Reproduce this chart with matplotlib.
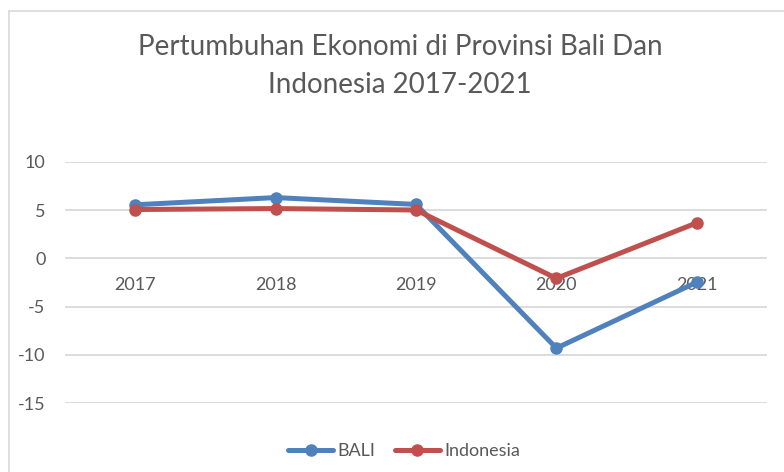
import matplotlib
matplotlib.use("Agg")
import matplotlib.pyplot as plt
from matplotlib.lines import Line2D

years = ["2017", "2018", "2019", "2020", "2021"]
bali = [5.56, 6.31, 5.60, -9.31, -2.47]
indonesia = [5.07, 5.17, 5.02, -2.07, 3.69]
y_ticks = [-15, -10, -5, 0, 5, 10]

plt.rcParams['font.family'] = ['Lato', 'DejaVu Sans']
text_color = '#595959'
blue = '#4F81BD'
red = '#C0504D'
fs = 13

W, H = 784, 472
fig = plt.figure(figsize=(W / 100, H / 100), dpi=100)

# chart outline (cropped at the right and bottom)
fig.add_artist(Line2D([9 / W, 9 / W], [0, 1 - 11 / H], color='#D9D9D9', lw=1.2))
fig.add_artist(Line2D([9 / W, 1], [1 - 11 / H, 1 - 11 / H], color='#D9D9D9', lw=1.2))

ax = fig.add_axes([65 / W, 1 - 403 / H, (767 - 65) / W, (403 - 162) / H])

x = list(range(len(years)))
ax.plot(x, bali, color=blue, lw=3.6, marker='o', markersize=8, label='BALI',
        solid_capstyle='round', zorder=3)
ax.plot(x, indonesia, color=red, lw=3.6, marker='o', markersize=8, label='Indonesia',
        solid_capstyle='round', zorder=4)

ax.set_xlim(-0.5, len(years) - 0.5)
ax.set_ylim(-15, 10)
ax.set_yticks(y_ticks)
ax.set_yticklabels([str(v) for v in y_ticks])
ax.yaxis.grid(True, color='#D9D9D9', lw=1.3)
ax.set_axisbelow(True)
for s in ax.spines.values():
    s.set_visible(False)
ax.tick_params(axis='y', length=0, pad=14, labelsize=fs, labelcolor=text_color)

# category labels sit just under the zero line
ax.set_xticks([])
for i, yr in enumerate(years):
    ax.annotate(yr, (i, 0), xytext=(0, -19.5), textcoords='offset points',
                ha='center', va='center', fontsize=fs, color=text_color, zorder=2)

fig.text(400 / W, 1 - 66 / H, "Pertumbuhan Ekonomi di Provinsi Bali Dan\nIndonesia 2017-2021",
         ha='center', va='center', fontsize=20, color=text_color, linespacing=1.55)

leg = ax.legend(loc='center', bbox_to_anchor=(404 / W, 1 - 451 / H),
                bbox_transform=fig.transFigure, ncol=2, frameon=False,
                fontsize=fs, handlelength=2.5, handletextpad=0.22, columnspacing=1.1)
for t in leg.get_texts():
    t.set_color(text_color)

fig.savefig("out.png", dpi=100)
